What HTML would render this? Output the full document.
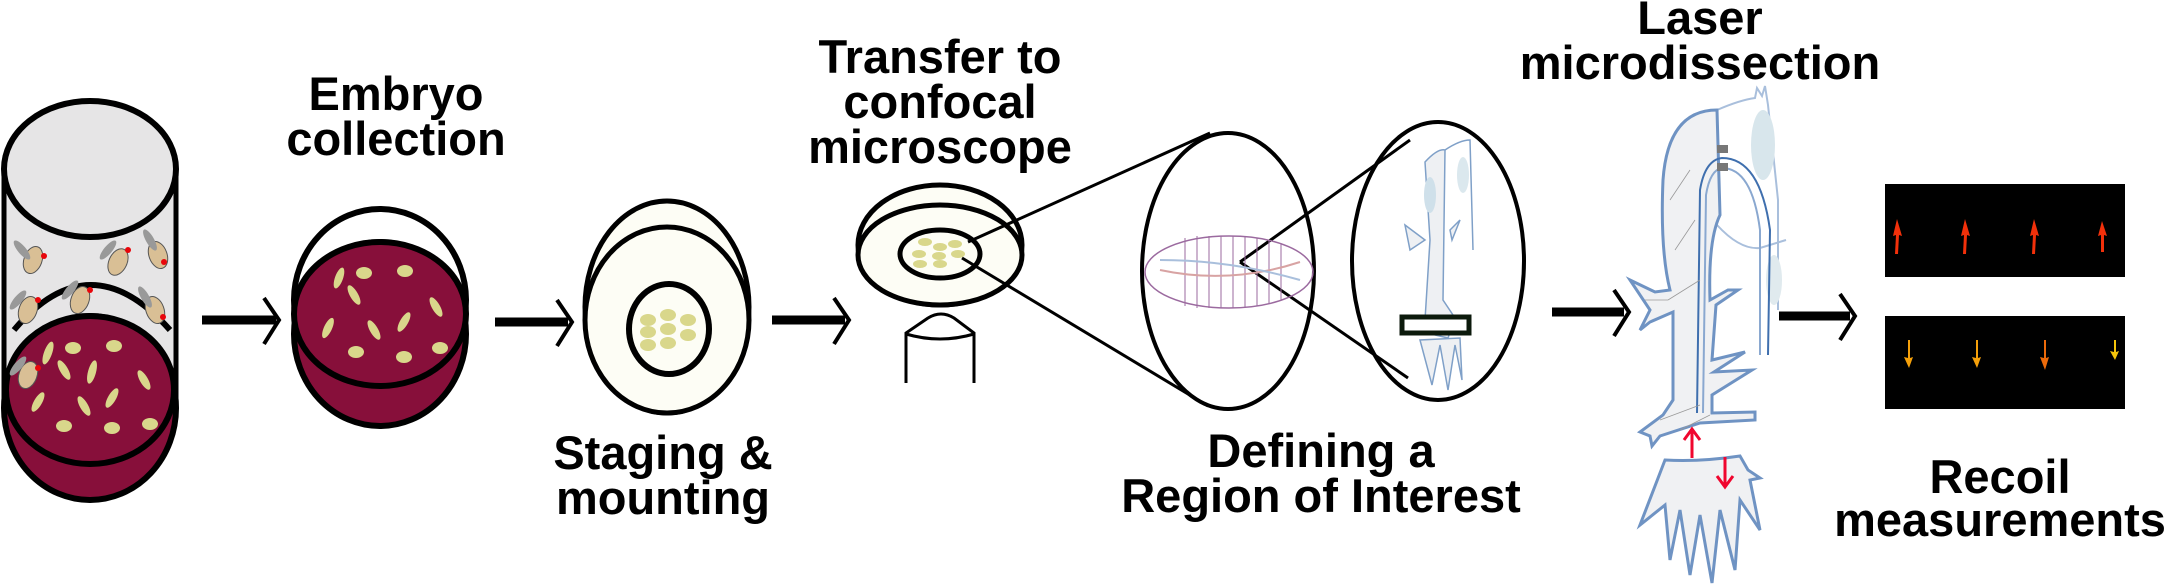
<!DOCTYPE html>
<html><head><meta charset="utf-8"><style>
html,body{margin:0;padding:0;background:#fff;}
svg{display:block}
text{font-family:"Liberation Sans",Arial,sans-serif;font-weight:bold;font-size:47px;fill:#000;text-anchor:middle}
</style></head><body>
<svg width="2175" height="586" viewBox="0 0 2175 586" xmlns="http://www.w3.org/2000/svg">
<defs>
<marker id="ah" markerWidth="10" markerHeight="10" refX="0" refY="0" viewBox="-10 -10 20 20" orient="auto"></marker>
</defs>
<!-- Tube -->
<rect x="4" y="169" width="172" height="240" fill="#e6e5e6"/>
<ellipse cx="90" cy="408" rx="86" ry="92" fill="#870f3a" stroke="#000" stroke-width="6"/>
<path d="M4 169 V410 M176 169 V410" stroke="#000" stroke-width="5" fill="none"/>
<path d="M14 330 Q90 240 170 330" fill="none" stroke="#000" stroke-width="6"/>
<ellipse cx="90" cy="390" rx="84" ry="74" fill="#870f3a" stroke="#000" stroke-width="6"/>
<ellipse cx="90" cy="169" rx="86" ry="68" fill="#e6e5e6" stroke="#000" stroke-width="6"/>
<!-- flies -->
<g fill="#d9bf95" stroke="#555" stroke-width="1">
<ellipse cx="33" cy="260" rx="9" ry="14" transform="rotate(20 33 260)"/>
<ellipse cx="118" cy="262" rx="9" ry="14" transform="rotate(25 118 262)"/>
<ellipse cx="158" cy="255" rx="9" ry="14" transform="rotate(-20 158 255)"/>
<ellipse cx="28" cy="310" rx="9" ry="14" transform="rotate(20 28 310)"/>
<ellipse cx="80" cy="300" rx="9" ry="14" transform="rotate(20 80 300)"/>
<ellipse cx="155" cy="310" rx="9" ry="14" transform="rotate(-20 155 310)"/>
<ellipse cx="28" cy="375" rx="9" ry="14" transform="rotate(20 28 375)"/>
</g>
<g fill="#999">
<ellipse cx="22" cy="250" rx="4" ry="12" transform="rotate(-40 22 250)"/>
<ellipse cx="108" cy="250" rx="4" ry="12" transform="rotate(40 108 250)"/>
<ellipse cx="150" cy="240" rx="4" ry="12" transform="rotate(-30 150 240)"/>
<ellipse cx="18" cy="300" rx="4" ry="12" transform="rotate(40 18 300)"/>
<ellipse cx="70" cy="290" rx="4" ry="12" transform="rotate(40 70 290)"/>
<ellipse cx="145" cy="297" rx="4" ry="12" transform="rotate(-30 145 297)"/>
<ellipse cx="18" cy="366" rx="4" ry="12" transform="rotate(40 18 366)"/>
</g>
<g fill="#e8050a"><circle cx="44" cy="256" r="3"/><circle cx="128" cy="250" r="3"/><circle cx="164" cy="262" r="3"/><circle cx="38" cy="300" r="3"/><circle cx="90" cy="290" r="3"/><circle cx="163" cy="317" r="3"/><circle cx="38" cy="368" r="3"/></g>
<g fill="#d9d78b">
<ellipse cx="48" cy="353" rx="4" ry="12" transform="rotate(20 48 353)"/><ellipse cx="73" cy="348" rx="8" ry="6"/><ellipse cx="114" cy="346" rx="8" ry="6"/>
<ellipse cx="64" cy="370" rx="4" ry="11" transform="rotate(-30 64 370)"/><ellipse cx="92" cy="372" rx="4" ry="12" transform="rotate(15 92 372)"/><ellipse cx="144" cy="380" rx="4" ry="11" transform="rotate(-30 144 380)"/>
<ellipse cx="38" cy="402" rx="4" ry="11" transform="rotate(30 38 402)"/><ellipse cx="84" cy="406" rx="4" ry="11" transform="rotate(-30 84 406)"/><ellipse cx="112" cy="398" rx="4" ry="11" transform="rotate(30 112 398)"/>
<ellipse cx="64" cy="426" rx="8" ry="6"/><ellipse cx="112" cy="428" rx="8" ry="6"/><ellipse cx="150" cy="424" rx="8" ry="6"/>
</g>
<!-- Embryo dish -->
<ellipse cx="380" cy="300" rx="86" ry="91" fill="#fff" stroke="#000" stroke-width="6"/>
<ellipse cx="380" cy="334" rx="86" ry="92" fill="#870f3a" stroke="#000" stroke-width="6"/>
<ellipse cx="380" cy="314" rx="86" ry="72" fill="#870f3a" stroke="#000" stroke-width="6"/>
<g fill="#d9d78b">
<ellipse cx="339" cy="278" rx="4" ry="11" transform="rotate(20 339 278)"/><ellipse cx="364" cy="273" rx="8" ry="6"/><ellipse cx="405" cy="271" rx="8" ry="6"/>
<ellipse cx="354" cy="295" rx="4" ry="11" transform="rotate(-30 354 295)"/><ellipse cx="436" cy="307" rx="4" ry="11" transform="rotate(-30 436 307)"/>
<ellipse cx="328" cy="328" rx="4" ry="11" transform="rotate(25 328 328)"/><ellipse cx="374" cy="330" rx="4" ry="11" transform="rotate(-30 374 330)"/><ellipse cx="404" cy="322" rx="4" ry="11" transform="rotate(30 404 322)"/>
<ellipse cx="356" cy="352" rx="8" ry="6"/><ellipse cx="404" cy="357" rx="8" ry="6"/><ellipse cx="440" cy="348" rx="8" ry="6"/>
</g>
<!-- arrows -->
<g stroke="#000" stroke-width="9" fill="none">
<path d="M202 320 H276"/><path d="M495 322 H568"/><path d="M772 320 H845"/><path d="M1552 312 H1624"/><path d="M1779 316 H1850"/>
</g>
<g stroke="#000" stroke-width="4" fill="none">
<path d="M264 298 L279 320 L264 344"/><path d="M557 300 L572 322 L557 346"/><path d="M834 298 L849 320 L834 344"/><path d="M1614 290 L1629 312 L1614 336"/><path d="M1840 294 L1855 316 L1840 340"/>
</g>
<!-- Staging dish -->
<ellipse cx="667" cy="307" rx="82" ry="106" fill="#fdfdf5" stroke="#000" stroke-width="5"/>
<ellipse cx="667" cy="320" rx="82" ry="93" fill="#fdfdf5" stroke="#000" stroke-width="5"/>
<ellipse cx="669" cy="329" rx="40" ry="45" fill="#fdfdf5" stroke="#000" stroke-width="6"/>
<g fill="#d9d78b">
<ellipse cx="668" cy="315" rx="8" ry="6"/><ellipse cx="648" cy="320" rx="8" ry="6"/><ellipse cx="688" cy="320" rx="8" ry="6"/>
<ellipse cx="648" cy="332" rx="8" ry="6"/><ellipse cx="668" cy="329" rx="8" ry="6"/><ellipse cx="688" cy="335" rx="8" ry="6"/>
<ellipse cx="648" cy="345" rx="8" ry="6"/><ellipse cx="668" cy="343" rx="8" ry="6"/>
</g>
<!-- Microscope -->
<ellipse cx="940" cy="245" rx="82" ry="60" fill="#fdfdf5" stroke="#000" stroke-width="5"/>
<ellipse cx="940" cy="255" rx="82" ry="50" fill="#fdfdf5" stroke="#000" stroke-width="5"/>
<ellipse cx="940" cy="254" rx="40" ry="24" fill="#fdfdf5" stroke="#000" stroke-width="5"/>
<g fill="#d9d78b">
<ellipse cx="925" cy="242" rx="7" ry="4"/><ellipse cx="940" cy="247" rx="7" ry="4"/><ellipse cx="955" cy="244" rx="7" ry="4"/>
<ellipse cx="919" cy="254" rx="7" ry="4"/><ellipse cx="939" cy="256" rx="7" ry="4"/><ellipse cx="958" cy="254" rx="7" ry="4"/>
<ellipse cx="920" cy="264" rx="7" ry="4"/><ellipse cx="940" cy="264" rx="7" ry="4"/>
</g>
<path d="M928 318 Q941 310 954 318 L974 333 L974 383 M906 383 V333 L928 318 M906 334 Q940 344 974 334" fill="#fff" stroke="#000" stroke-width="3"/>
<!-- zoom lines -->
<g stroke="#000" stroke-width="3" fill="none">
<path d="M968 242 L1210 133"/><path d="M962 258 L1208 406"/>
<path d="M1240 262 L1410 140"/><path d="M1240 262 L1408 378"/>
</g>
<ellipse cx="1228" cy="271" rx="86" ry="138" fill="none" stroke="#000" stroke-width="4"/>
<ellipse cx="1438" cy="261" rx="86" ry="139" fill="none" stroke="#000" stroke-width="4"/>
<!-- larva -->
<ellipse cx="1229" cy="272" rx="84" ry="36" fill="none" stroke="#9b6a9f" stroke-width="1.5"/>
<g stroke="#9b6a9f" stroke-width="1" fill="none">
<path d="M1185 238 V306 M1197 236 V308 M1209 236 V308 M1221 236 V308 M1233 236 V308 M1245 237 V307 M1257 238 V306 M1269 240 V304 M1281 243 V301"/>
</g>
<path d="M1160 270 Q1230 285 1300 262" stroke="#d8a3a3" fill="none" stroke-width="2"/>
<path d="M1160 260 Q1230 260 1300 280" stroke="#a9bfdc" fill="none" stroke-width="2"/>
<!-- small tendon -->
<g stroke="#7fa0c8" stroke-width="1.5" fill="#eef0f3">
<path d="M1425 162 Q1438 148 1445 150 L1443 300 L1455 318 L1448 338 L1435 335 L1425 320 L1430 240 Z"/>
<path d="M1445 150 Q1460 140 1470 140 L1473 250" fill="none"/>
<path d="M1405 225 L1425 240 L1410 250 Z M1450 230 L1460 220 L1452 240 Z"/>
<path d="M1420 340 L1432 385 L1440 345 L1448 390 L1455 345 L1462 380 L1460 338 Z"/>
</g>
<ellipse cx="1430" cy="195" rx="6" ry="18" fill="#cfe0ea"/>
<ellipse cx="1463" cy="175" rx="6" ry="18" fill="#dbe8ee"/>
<rect x="1402" y="317" width="67" height="16" fill="#fff" stroke="#0c1a0c" stroke-width="5"/>
<!-- big tendon -->
<g stroke="#a9bfdc" stroke-width="2" fill="none">
<path d="M1717 110 Q1740 100 1755 98 L1757 88 L1762 96 L1765 86 L1768 105 L1778 200 L1778 310"/>
<path d="M1717 225 Q1740 250 1760 248 L1786 240"/>
</g>
<ellipse cx="1763" cy="145" rx="12" ry="35" fill="#d8e6ec"/>
<ellipse cx="1774" cy="280" rx="8" ry="25" fill="#e0eaee"/>
<path d="M1663 180 Q1668 110 1717 110 L1720 215 Q1708 240 1710 300 L1728 290 L1738 290 L1716 305 L1712 360 L1745 352 L1714 372 L1752 370 L1712 395 L1712 413 L1755 412 L1755 420 L1700 423 L1660 436 L1652 446 L1650 436 L1640 432 L1663 415 L1673 400 L1673 312 L1650 322 L1640 330 L1650 310 L1630 280 L1655 292 L1670 290 Q1660 250 1663 180 Z" fill="#f0f1f3" stroke="#6f93c3" stroke-width="3"/>
<path d="M1697 413 L1700 190 Q1705 160 1722 158 Q1760 158 1770 230 L1768 355" fill="none" stroke="#3f6fae" stroke-width="2"/>
<path d="M1703 413 L1706 195 Q1710 170 1722 168 Q1752 168 1760 230 L1760 355" fill="none" stroke="#8aa8d0" stroke-width="2"/>
<rect x="1717" y="145" width="11" height="8" fill="#777"/><rect x="1717" y="163" width="11" height="8" fill="#777"/>
<g stroke="#999" stroke-width="0.8" fill="none">
<path d="M1670 200 L1690 170 M1675 250 L1695 220 M1668 300 L1700 280 M1645 300 L1668 300 M1660 420 L1700 405 M1680 430 L1710 415"/>
</g>
<path d="M1665 460 Q1700 462 1740 456 L1748 470 L1760 478 L1750 480 L1760 530 L1740 500 L1735 570 L1720 510 L1712 583 L1700 515 L1690 575 L1680 510 L1670 560 L1665 505 L1640 525 Z" fill="#f0f1f3" stroke="#6f93c3" stroke-width="3"/>
<g stroke="#f0062e" stroke-width="3" fill="none">
<path d="M1692 458 V430 M1684 440 L1692 429 L1700 440"/>
<path d="M1725 457 V486 M1717 476 L1725 487 L1733 476"/>
</g>
<!-- panels -->
<rect x="1885" y="184" width="240" height="93" fill="#000"/>
<rect x="1885" y="316" width="240" height="93" fill="#000"/>
<g fill="#f2300a">
<path d="M1897 219 L1893 236 L1896 235 L1895 254 L1898 254 L1899 235 L1902 236 Z"/>
<path d="M1965 219 L1961 236 L1964 235 L1963 254 L1966 254 L1967 235 L1970 236 Z"/>
<path d="M2034 219 L2030 236 L2033 235 L2032 254 L2035 254 L2036 235 L2039 236 Z"/>
<path d="M2102 221 L2098 236 L2101 235 L2101 252 L2104 252 L2104 235 L2107 236 Z"/>
</g>
<g fill="#f5a00a">
<path d="M1908 340 V358 L1904 357 L1909 368 L1913 357 L1910 358 V340 Z"/>
<path d="M1976 340 V358 L1972 357 L1977 368 L1981 357 L1978 358 V340 Z"/>
<path d="M2044 340 V358 L2040 357 L2045 370 L2049 357 L2046 358 V340 Z" fill="#ec6a0a"/>
<path d="M2114 340 V352 L2110 351 L2115 360 L2119 351 L2116 352 V340 Z" fill="#f5c40a"/>
</g>
<!-- labels -->
<text x="396" y="110">Embryo</text><text x="396" y="155">collection</text>
<text x="940" y="73">Transfer to</text><text x="940" y="118">confocal</text><text x="940" y="163">microscope</text>
<text x="663" y="469">Staging &amp;</text><text x="663" y="514">mounting</text>
<text x="1700" y="34">Laser</text><text x="1700" y="79">microdissection</text>
<text x="1321" y="467">Defining a</text><text x="1321" y="512">Region of Interest</text>
<text x="2000" y="493">Recoil</text><text x="2000" y="536">measurements</text>
</svg>
</body></html>
